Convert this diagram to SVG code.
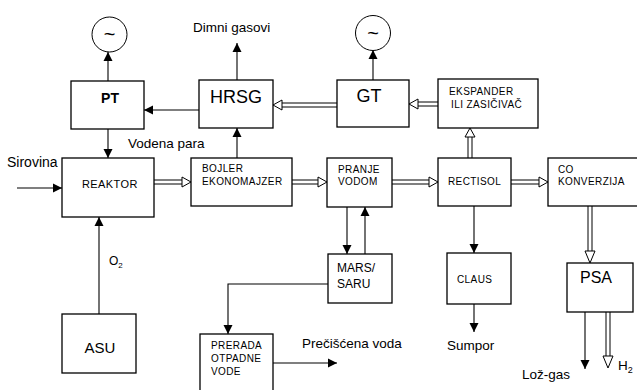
<svg xmlns="http://www.w3.org/2000/svg" width="637" height="390" viewBox="0 0 637 390">
<defs>
<style>
.box{fill:#fff;stroke:#000;stroke-width:1.3}
.gen{fill:#fff;stroke:#000;stroke-width:1}
.ln{fill:none;stroke:#000;stroke-width:1.1}
.dbl{fill:none;stroke:#000;stroke-width:1}
.hd{fill:#fff;stroke:#000;stroke-width:1;stroke-linejoin:miter}
text{font-family:"Liberation Sans",Arial,sans-serif;fill:#000}
.s{font-size:10px;letter-spacing:0.4px}
.l{font-size:13.5px}
.big{font-size:18px}
.til{font-size:20px}
</style>
<marker id="ah" viewBox="0 0 10 10" refX="10" refY="5" markerWidth="9" markerHeight="10" markerUnits="userSpaceOnUse" orient="auto">
<path d="M0,0 L10,5 L0,10 Z" fill="#000"/>
</marker>
</defs>
<rect width="637" height="390" fill="#fff"/>

<g id="connectors">
<line class="ln" x1="108" y1="81" x2="108" y2="52" marker-end="url(#ah)"/>
<line class="ln" x1="199" y1="110" x2="144" y2="110" marker-end="url(#ah)"/>
<line class="ln" x1="237" y1="80" x2="237" y2="43" marker-end="url(#ah)"/>
<line class="ln" x1="108" y1="129" x2="108" y2="158" marker-end="url(#ah)"/>
<line class="ln" x1="17" y1="188" x2="62" y2="188" marker-end="url(#ah)"/>
<line class="ln" x1="237" y1="158" x2="237" y2="128" marker-end="url(#ah)"/>
<line class="ln" x1="99" y1="314" x2="99" y2="217" marker-end="url(#ah)"/>
<line class="ln" x1="373" y1="80" x2="373" y2="50" marker-end="url(#ah)"/>
<line class="ln" x1="347" y1="207" x2="347" y2="254" marker-end="url(#ah)"/>
<line class="ln" x1="365" y1="254" x2="365" y2="207" marker-end="url(#ah)"/>
<path class="ln" d="M328,284 H228 V334" marker-end="url(#ah)"/>
<line class="ln" x1="273" y1="363" x2="337" y2="363" marker-end="url(#ah)"/>
<line class="ln" x1="474" y1="206" x2="474" y2="253" marker-end="url(#ah)"/>
<line class="ln" x1="474" y1="304" x2="474" y2="332" marker-end="url(#ah)"/>
<line class="ln" x1="585" y1="312" x2="585" y2="369" marker-end="url(#ah)"/>

<path class="dbl" d="M438,102 H418 M438,106 H418"/>
<path class="hd" d="M418,99 L409,104 L418,109 Z"/>
<path class="dbl" d="M337,103 H282 M337,107 H282"/>
<path class="hd" d="M282,100 L273,105 L282,110 Z"/>
<path class="dbl" d="M468,158 V137 M472,158 V137"/>
<path class="hd" d="M465,137 L470,128 L475,137 Z"/>
<path class="dbl" d="M154,180 H182 M154,184 H182"/>
<path class="hd" d="M182,177 L191,182 L182,187 Z"/>
<path class="dbl" d="M292,180 H318 M292,184 H318"/>
<path class="hd" d="M318,177 L327,182 L318,187 Z"/>
<path class="dbl" d="M392,180 H429 M392,184 H429"/>
<path class="hd" d="M429,177 L438,182 L429,187 Z"/>
<path class="dbl" d="M511,180 H539 M511,184 H539"/>
<path class="hd" d="M539,177 L548,182 L539,187 Z"/>
<path class="dbl" d="M588,206 V251 M592,206 V251"/>
<path class="hd" d="M585,251 L590,263 L595,251 Z"/>
<path class="dbl" d="M606,312 V356 M610,312 V356"/>
<path class="hd" d="M603,356 L608,368 L613,356 Z"/>
</g>

<g id="gen1"><circle class="gen" cx="109.5" cy="34.5" r="17.5"/><text x="109.5" y="41" class="til" text-anchor="middle">~</text></g>
<g id="gen2"><circle class="gen" cx="373" cy="33" r="17.5"/><text x="373" y="39.5" class="til" text-anchor="middle">~</text></g>

<g id="pt"><rect class="box" x="71" y="81" width="73" height="48"/><text x="110" y="103" font-size="14" font-weight="bold" text-anchor="middle">PT</text></g>
<g id="hrsg"><rect class="box" x="199" y="80" width="74" height="48"/><text x="236" y="103" class="big" text-anchor="middle">HRSG</text></g>
<g id="gt"><rect class="box" x="337" y="80" width="72" height="47"/><text x="369" y="102" class="big" text-anchor="middle">GT</text></g>
<g id="ekspander"><rect class="box" x="438" y="79" width="100" height="49"/><text x="449" y="95" class="s">EKSPANDER</text><text x="451" y="108" class="s">ILI ZASIČIVAČ</text></g>
<g id="reaktor"><rect class="box" x="62" y="158" width="92" height="59"/><text x="82" y="188" font-size="11" letter-spacing="0.4">REAKTOR</text></g>
<g id="bojler"><rect class="box" x="191" y="158" width="101" height="48"/><text x="202" y="172" class="s">BOJLER</text><text x="202" y="185" class="s">EKONOMAJZER</text></g>
<g id="pranje"><rect class="box" x="327" y="158" width="65" height="49"/><text x="338" y="173" class="s">PRANJE</text><text x="338" y="185" class="s">VODOM</text></g>
<g id="rectisol"><rect class="box" x="438" y="158" width="73" height="48"/><text x="448" y="185" class="s">RECTISOL</text></g>
<g id="co"><rect class="box" x="548" y="158" width="100" height="48"/><text x="558" y="173" class="s">CO</text><text x="558" y="185" class="s">KONVERZIJA</text></g>
<g id="mars"><rect class="box" x="328" y="254" width="64" height="49"/><text x="337" y="272" font-size="12">MARS/</text><text x="337" y="288" font-size="12">SARU</text></g>
<g id="claus"><rect class="box" x="447" y="253" width="64" height="51"/><text x="457" y="283" class="s">CLAUS</text></g>
<g id="psa"><rect class="box" x="567" y="263" width="66" height="49"/><text x="596" y="283" font-size="16" text-anchor="middle">PSA</text></g>
<g id="asu"><rect class="box" x="62" y="314" width="74" height="59"/><text x="100" y="353" font-size="15" text-anchor="middle">ASU</text></g>
<g id="prerada"><rect class="box" x="200" y="334" width="73" height="62"/><text x="211" y="349" class="s">PRERADA</text><text x="211" y="362" class="s">OTPADNE</text><text x="211" y="375" class="s">VODE</text></g>

<g id="labels">
<text x="193" y="32" class="l">Dimni gasovi</text>
<text x="128" y="148" class="l">Vodena para</text>
<text x="7" y="167" font-size="14">Sirovina</text>
<text x="109" y="265" font-size="12">O<tspan font-size="8" dy="3">2</tspan></text>
<text x="302" y="348" class="l">Prečišćena voda</text>
<text x="447" y="350" class="l">Sumpor</text>
<text x="522" y="379" class="l">Lož-gas</text>
<text x="618" y="370" class="l">H<tspan font-size="9" dy="3">2</tspan></text>
</g>
</svg>
